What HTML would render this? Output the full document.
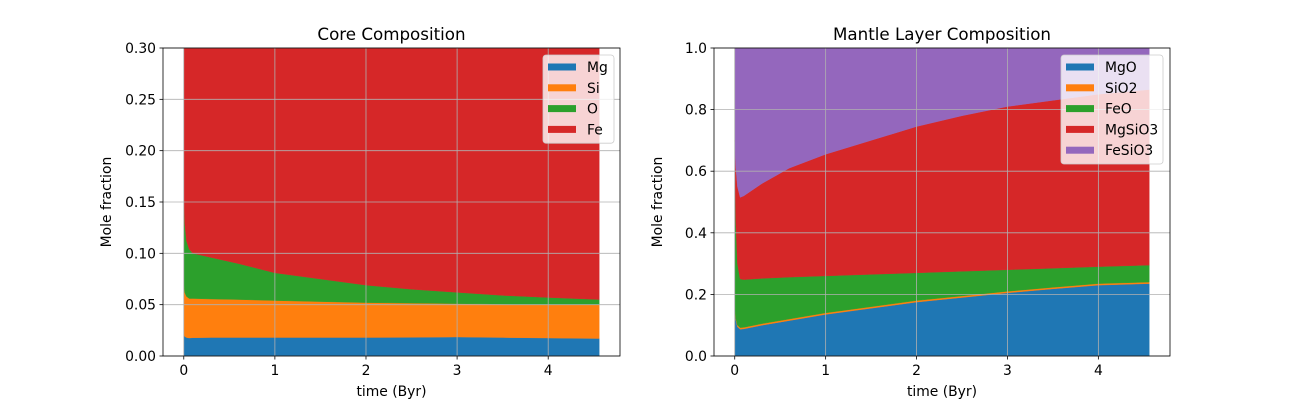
<!DOCTYPE html>
<html><head><meta charset="utf-8"><style>
body{margin:0;background:#fff}
svg text{font-family:"DejaVu Sans","Liberation Sans",sans-serif;fill:#000}
</style></head><body>
<svg id="fig" width="1300" height="400" xmlns="http://www.w3.org/2000/svg"></svg>
<script>
const times=[0,0.01,0.03,0.06,0.1,0.3,0.6,1,1.5,2,2.5,3,3.5,4,4.56];
const coreNames=["Mg","Si","O","Fe"];
const coreMg=[0.021,0.019,0.018,0.0175,0.0178,0.018,0.018,0.018,0.018,0.018,0.0182,0.0185,0.018,0.0175,0.017];
const coreSi=[0.049,0.043,0.040,0.0385,0.0382,0.0375,0.037,0.036,0.035,0.034,0.0333,0.0325,0.0325,0.0327,0.033];
const coreO=[0.09,0.068,0.054,0.048,0.044,0.0405,0.035,0.027,0.022,0.017,0.0135,0.011,0.0085,0.0068,0.005];
const coreFe=[0.84,0.87,0.888,0.896,0.90,0.904,0.91,0.919,0.925,0.931,0.935,0.938,0.941,0.943,0.945];
const mantleNames=["MgO","SiO2","FeO","MgSiO3","FeSiO3"];
const mMgO=[0.15,0.12,0.095,0.087,0.088,0.1,0.115,0.135,0.155,0.175,0.19,0.205,0.218,0.23,0.235];
const mSiO2=[0.005,0.005,0.005,0.005,0.005,0.005,0.005,0.005,0.005,0.005,0.005,0.005,0.005,0.005,0.005];
const mFeO=[0.545,0.325,0.2,0.158,0.155,0.147,0.136,0.12,0.105,0.09,0.08,0.07,0.062,0.055,0.055];
const mMgSiO3=[0.0,0.17,0.25,0.265,0.272,0.308,0.354,0.395,0.435,0.475,0.505,0.53,0.545,0.56,0.57];
const mFeSiO3=[0.30,0.38,0.45,0.485,0.48,0.44,0.39,0.345,0.30,0.255,0.22,0.19,0.17,0.15,0.135];
const xTicks=[0,1,2,3,4];
const coreYTicks=[0,0.05,0.10,0.15,0.20,0.25,0.30];
const coreYLabels=["0.00","0.05","0.10","0.15","0.20","0.25","0.30"];
const mantleYTicks=[0,0.2,0.4,0.6,0.8,1.0];
const mantleYLabels=["0.0","0.2","0.4","0.6","0.8","1.0"];
const colors=["#1f77b4","#ff7f0e","#2ca02c","#d62728","#9467bd"];
const NS="http://www.w3.org/2000/svg";
const svg=document.getElementById('fig');
function mk(tag,attrs,parent){const e=document.createElementNS(NS,tag);for(const k in attrs)e.setAttribute(k,attrs[k]);(parent||svg).appendChild(e);return e;}
function panel(id,L,R,ymax,series,names,yt,yl,title,legend){
  const T=48,B=356,FS=13.9;
  const xmin=-0.228,xmax=4.788;
  const X=v=>L+(v-xmin)/(xmax-xmin)*(R-L);
  const Y=v=>B-v/ymax*(B-T);
  const g=mk('g',{});
  
  
  const cp=mk('clipPath',{id:id+'clip'},g);mk('rect',{x:L,y:T,width:R-L,height:B-T},cp);
  const fills=mk('g',{'clip-path':'url(#'+id+'clip)'},g);
  let base=times.map(()=>0);
  series.forEach((s,i)=>{
    const top=base.map((b,j)=>b+s[j]);
    let d='M'+times.map((t,j)=>X(t)+','+Y(top[j])).join('L');
    for(let j=times.length-1;j>=0;j--)d+='L'+X(times[j])+','+Y(base[j]);
    const p=mk('path',{d:d+'Z',fill:colors[i],stroke:colors[i],'stroke-width':0.4},fills);
    
    
    base=top;
  });
  xTicks.forEach(t=>{
    const x=X(t);
    mk('line',{x1:x,x2:x,y1:T,y2:B,stroke:'#b0b0b0','stroke-width':0.8},g);
    mk('line',{x1:x,x2:x,y1:B,y2:B+3.5,stroke:'#000','stroke-width':0.8},g);
    const tx=mk('text',{x:x,y:B+19,'font-size':FS,'text-anchor':'middle'},g);tx.textContent=t;
    
    
  });
  yt.forEach((v,i)=>{
    const y=Y(v);
    mk('line',{x1:L,x2:R,y1:y,y2:y,stroke:'#b0b0b0','stroke-width':0.8},g);
    mk('line',{x1:L-3.5,x2:L,y1:y,y2:y,stroke:'#000','stroke-width':0.8},g);
    const tx=mk('text',{x:L-7,y:y+5,'font-size':FS,'text-anchor':'end'},g);tx.textContent=yl[i];
    
    
  });
  mk('rect',{x:L,y:T,width:R-L,height:B-T,fill:'none',stroke:'#000','stroke-width':0.8},g);
  const ti=mk('text',{x:(L+R)/2,y:T-8,'font-size':16.7,'text-anchor':'middle'},g);ti.textContent=title;
  
  
  const xl=mk('text',{x:(L+R)/2,y:396,'font-size':FS,'text-anchor':'middle'},g);xl.textContent='time (Byr)';
  
  
  const yx=L-52;
  const ylb=mk('text',{x:yx,y:(T+B)/2,'font-size':FS,'text-anchor':'middle',transform:'rotate(-90 '+yx+' '+(T+B)/2+')'},g);ylb.textContent='Mole fraction';
  
  
  const lg=mk('g',{},g);
  
  
  mk('rect',{x:legend.x,y:55,width:legend.w,height:names.length*20.8+5,rx:3,fill:'#fff','fill-opacity':0.8,stroke:'#cccccc','stroke-width':0.8},lg);
  names.forEach((n,i)=>{
    const cy=67+i*20.8;
    mk('rect',{x:legend.x+5,y:cy-3.5,width:28,height:7,fill:colors[i]},lg);
    const tx=mk('text',{x:legend.x+44,y:cy+5,'font-size':FS},lg);tx.textContent=n;
    
    
  });
}
panel('core',163,620,0.30,[coreMg,coreSi,coreO,coreFe],coreNames,coreYTicks,coreYLabels,'Core Composition',{x:543,w:71});
panel('mantle',714,1170,1.0,[mMgO,mSiO2,mFeO,mMgSiO3,mFeSiO3],mantleNames,mantleYTicks,mantleYLabels,'Mantle Layer Composition',{x:1061,w:102});
</script>
</body></html>
